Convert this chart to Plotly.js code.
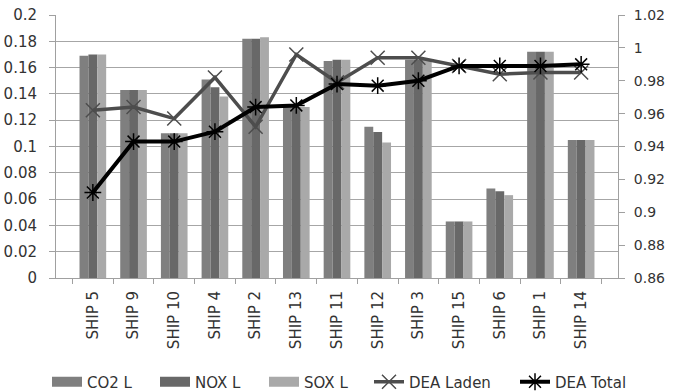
<!DOCTYPE html>
<html><head><meta charset="utf-8">
<script src="https://cdn.plot.ly/plotly-3.0.1.min.js"></script>
<style>html,body{margin:0;padding:0;background:#fff}#c{width:673px;height:392px}</style>
</head><body><div id="c"></div>
<script>
const ships = ["SHIP 5","SHIP 9","SHIP 10","SHIP 4","SHIP 2","SHIP 13","SHIP 11","SHIP 12","SHIP 3","SHIP 15","SHIP 6","SHIP 1","SHIP 14"];
const co2L = [0.169,0.143,0.110,0.151,0.182,0.130,0.165,0.115,0.166,0.043,0.068,0.172,0.105];
const noxL = [0.170,0.143,0.110,0.145,0.182,0.130,0.166,0.111,0.166,0.043,0.066,0.172,0.105];
const soxL = [0.170,0.143,0.110,0.138,0.183,0.130,0.166,0.103,0.166,0.043,0.063,0.172,0.105];
const deaLaden = [0.962,0.964,0.957,0.982,0.952,0.996,0.979,0.994,0.994,0.989,0.984,0.985,0.985];
const deaTotal = [0.912,0.943,0.943,0.949,0.964,0.965,0.978,0.977,0.980,0.989,0.989,0.989,0.990];

const F = "DejaVu Sans, sans-serif";
const cCO2 = '#7f7f7f', cNOX = '#686868', cSOX = '#a9a9a9';
function legendKey(name, color, lg){
  return {type:'scatter', mode:'lines', name:name, x:[ships[0]], y:[null], showlegend:true, legend:lg,
    line:{color:color, width:10}, hoverinfo:'skip'};
}
const data = [
  {type:'bar', name:'CO2 L', x:ships, y:co2L, marker:{color:cCO2}, showlegend:false},
  {type:'bar', name:'NOX L', x:ships, y:noxL, marker:{color:cNOX}, showlegend:false},
  {type:'bar', name:'SOX L', x:ships, y:soxL, marker:{color:cSOX}, showlegend:false},
  legendKey('CO2 L', cCO2, 'legend'), legendKey('NOX L', cNOX, 'legend2'), legendKey('SOX L', cSOX, 'legend3'),
  {type:'scatter', mode:'lines+markers', name:'DEA Laden', x:ships, y:deaLaden, yaxis:'y2', legend:'legend4',
   line:{color:'#4d4d4d', width:3.5}, marker:{symbol:'x-thin-open', size:14, color:'#4d4d4d', line:{width:1.5, color:'#4d4d4d'}}},
  {type:'scatter', mode:'lines+markers', name:'DEA Total', x:ships, y:deaTotal, yaxis:'y2', legend:'legend5',
   line:{color:'#000000', width:4}, marker:{symbol:'asterisk-open', size:14, color:'#000', line:{width:1.5, color:'#000'}}}
];
function lg(px){
  return {orientation:'h', xref:'container', x:px/673, xanchor:'left', yref:'container', y:0.0255, yanchor:'middle',
    font:{family:F, size:15, color:'#333'}, itemwidth:30, bgcolor:'rgba(0,0,0,0)', borderwidth:0};
}
const layout = {
  width:673, height:392,
  margin:{l:56, r:55, t:15, b:114},
  paper_bgcolor:'#fff', plot_bgcolor:'#fff',
  font:{family:F, size:15, color:'#333'},
  barmode:'group', bargap:0.345, bargroupgap:0,
  showlegend:true,
  legend:lg(47), legend2:lg(155), legend3:lg(264), legend4:lg(369), legend5:lg(515),
  xaxis:{type:'category', tickangle:-90, ticks:'outside', tickson:'boundaries', ticklen:5,
    tickcolor:'#a0a0a0', showline:true, linecolor:'#a0a0a0', linewidth:1, showgrid:false,
    ticklabelstandoff:6, tickfont:{family:F, size:15, color:'#333'}},
  yaxis:{range:[0,0.2], dtick:0.02, showgrid:true, gridcolor:'#a6a6a6', gridwidth:1,
    showline:true, linecolor:'#a0a0a0', ticks:'outside', ticklen:6, tickcolor:'#a0a0a0', zeroline:false,
    ticklabelstandoff:9, tickfont:{family:F, size:15, color:'#333'}},
  yaxis2:{range:[0.86,1.02], dtick:0.02, overlaying:'y', side:'right', showgrid:false,
    showline:true, linecolor:'#a0a0a0', ticks:'outside', ticklen:6, tickcolor:'#a0a0a0', zeroline:false,
    ticklabelstandoff:6, tickfont:{family:F, size:14, color:'#333'}}
};
Plotly.newPlot('c', data, layout, {displayModeBar:false, staticPlot:true});
</script></body></html>
